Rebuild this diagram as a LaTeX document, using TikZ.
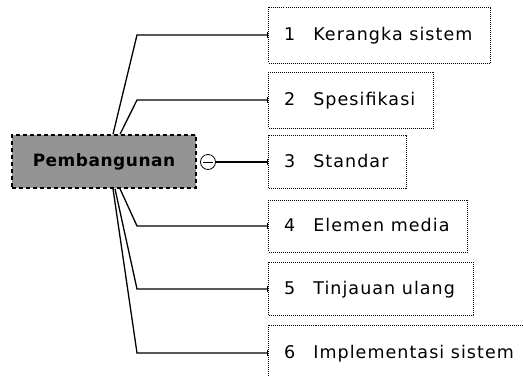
\documentclass[tikz,border=0pt]{standalone}
\usepackage{fontspec}
\setmainfont{DejaVu Sans}
\newfontfamily\itemfont[LetterSpace=6]{DejaVu Sans}
\newfontfamily\rootfont[LetterSpace=3]{DejaVu Sans}
\usetikzlibrary{arrows.meta}

\tikzset{
  topicbox/.style={draw, densely dotted, line width=1pt, anchor=west, inner sep=0pt},
  itemtext/.style={anchor=base west, inner sep=0pt, font=\itemfont\fontsize{17.5}{20}\selectfont},
  rootbox/.style={draw, dash pattern=on 4pt off 3pt, line width=1.5pt, fill=black!42,
    inner sep=0pt, font=\rootfont\bfseries\fontsize{17}{20}\selectfont},
  conn/.style={line width=1.3pt, -{Bar[width=6pt,line width=1pt]}},
  toggle/.style={circle, draw, line width=0.8pt, minimum size=15pt, inner sep=0pt, fill=white},
}

\begin{document}
\begin{tikzpicture}[x=1pt,y=-1pt]
\useasboundingbox (0,0) rectangle (523,376);

% central topic
\node[rootbox, minimum width=184pt, minimum height=53pt] (root) at (104,161.5) {Pembangunan};

% subtopic frames
\node[topicbox, minimum width=222pt, minimum height=56pt] (t1) at (268,35) {};
\node[topicbox, minimum width=165pt, minimum height=56pt] (t2) at (268,100) {};
\node[topicbox, minimum width=138pt, minimum height=53pt] (t3) at (268,162) {};
\node[topicbox, minimum width=199pt, minimum height=52pt] (t4) at (268,226) {};
\node[topicbox, minimum width=205pt, minimum height=53pt] (t5) at (268,289) {};
\node[topicbox, minimum width=264pt, minimum height=56pt] (t6) at (268,353) {};

% subtopic labels
\node[itemtext] (l1) at ([xshift=16pt,yshift=-5.5pt]t1.west) {1\hspace{18pt}Kerangka sistem};
\node[itemtext] (l2) at ([xshift=16pt,yshift=-5.5pt]t2.west) {2\hspace{18pt}Spesifikasi};
\node[itemtext] (l3) at ([xshift=16pt,yshift=-5.5pt]t3.west) {3\hspace{18pt}Standar};
\node[itemtext] (l4) at ([xshift=16pt,yshift=-5.5pt]t4.west) {4\hspace{18pt}Elemen media};
\node[itemtext] (l5) at ([xshift=16pt,yshift=-5.5pt]t5.west) {5\hspace{18pt}Tinjauan ulang};
\node[itemtext] (l6) at ([xshift=16pt,yshift=-5.5pt]t6.west) {6\hspace{18pt}Implementasi sistem};

% collapse toggle
\node[toggle] (tog) at (208,162) {};
\draw[line width=0.8pt] ([xshift=-5pt]tog.center) -- ([xshift=5pt]tog.center);

% branch elbows
\coordinate (bend) at (137,0);

% connectors
\draw[conn] ([xshift=9pt]root.north) -- (bend |- t1.west) -- (t1.west);
\draw[conn] ([xshift=16pt]root.north) -- (bend |- t2.west) -- (t2.west);
\draw[conn] (tog.east) -- (t3.west);
\draw[conn] ([xshift=16pt]root.south) -- (bend |- t4.west) -- (t4.west);
\draw[conn] ([xshift=11pt]root.south) -- (bend |- t5.west) -- (t5.west);
\draw[conn] ([xshift=9pt]root.south) -- (bend |- t6.west) -- (t6.west);
\end{tikzpicture}
\end{document}
